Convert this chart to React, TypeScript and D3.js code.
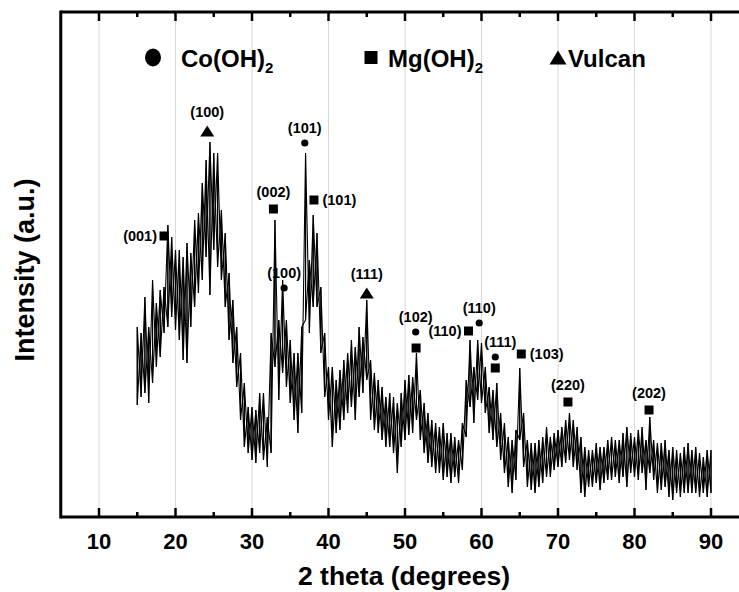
import React from 'react';
import * as d3 from 'd3';

// XRD pattern, sampled every 0.5 degree from 15 to 90 (upper and lower noise envelope, arb. counts)
const angleStart = 15;
const angleStep = 0.5;
const hiCounts = [
  190, 184, 220, 190, 237, 214, 227, 230, 292, 280,
  267, 267, 260, 274, 264, 297, 304, 334, 357, 375,
  364, 364, 307, 284, 244, 217, 190, 164, 134, 110,
  110, 107, 124, 124, 100, 184, 297, 197, 237, 197,
  177, 164, 164, 190, 364, 257, 302, 284, 230, 184,
  150, 150, 137, 147, 157, 164, 177, 170, 190, 180,
  217, 157, 144, 137, 130, 120, 124, 120, 114, 124,
  137, 142, 140, 164, 127, 114, 104, 97, 94, 90,
  94, 84, 84, 80, 77, 94, 137, 177, 150, 177,
  174, 150, 130, 127, 134, 104, 94, 80, 77, 87,
  149, 104, 77, 74, 74, 77, 80, 90, 80, 84,
  87, 90, 97, 104, 97, 90, 80, 70, 67, 67,
  74, 70, 70, 77, 80, 77, 77, 84, 90, 84,
  80, 87, 90, 77, 100, 77, 74, 74, 77, 67,
  70, 67, 64, 70, 74, 67, 70, 64, 60, 67,
  67,
];
const loCounts = [
  112, 120, 124, 114, 134, 150, 160, 184, 190, 200,
  187, 177, 157, 154, 190, 210, 224, 237, 260, 222,
  267, 250, 237, 210, 177, 154, 130, 97, 70, 64,
  57, 54, 64, 57, 50, 64, 150, 117, 144, 130,
  114, 97, 84, 104, 197, 184, 210, 210, 164, 120,
  97, 70, 84, 87, 97, 104, 110, 97, 120, 124,
  137, 97, 87, 84, 77, 70, 70, 64, 44, 70,
  77, 82, 84, 97, 77, 64, 54, 50, 44, 44,
  37, 40, 34, 40, 34, 47, 80, 110, 94, 117,
  114, 104, 84, 77, 70, 57, 44, 30, 24, 37,
  77, 50, 30, 27, 24, 30, 34, 40, 40, 47,
  50, 50, 54, 57, 50, 47, 24, 20, 30, 30,
  34, 27, 34, 37, 37, 40, 34, 40, 30, 44,
  40, 37, 44, 27, 44, 37, 24, 27, 30, 20,
  17, 24, 20, 24, 24, 24, 24, 20, 24, 20,
  24,
];
const angles = hiCounts.map((_, i) => angleStart + i * angleStep);

const xTicks = [10, 20, 30, 40, 50, 60, 70, 80, 90];
const xMinorTicks = [15, 25, 35, 45, 55, 65, 75, 85];

// Peak markers
const markerAngle = [18.5, 24.15, 32.8, 36.9, 38.1, 34.2, 45.0, 51.4, 51.45, 58.3, 59.7, 61.8, 61.8, 65.2, 71.3, 81.9];
const markerCount = [281, 386, 308, 374, 317, 229, 224, 185, 169, 186, 194, 160, 149, 163, 115, 107];
const markerPhase = ['Mg', 'V', 'Mg', 'Co', 'Mg', 'Co', 'V', 'Co', 'Mg', 'Mg', 'Co', 'Co', 'Mg', 'Mg', 'Mg', 'Mg'];

// Peak labels (hkl), attached to a marker
const labelText = ['(001)', '(100)', '(002)', '(101)', '(101)', '(100)', '(111)', '(102)', '(110)', '(110)', '(111)', '(103)', '(220)', '(202)'];
const labelMarker = [0, 1, 2, 3, 4, 5, 6, 7, 9, 10, 11, 13, 14, 15];
const labelSide = ['left', 'above', 'above', 'above', 'right', 'above', 'above', 'above', 'left', 'above', 'aboveRight', 'right', 'above', 'above'];

const legendNames = ['Co(OH)', 'Mg(OH)', 'Vulcan'];
const legendSub = ['2', '2', ''];
const legendPhase = ['Co', 'Mg', 'V'];

const W = 739;
const H = 592;
const FONT = "'Liberation Sans', Arial, Helvetica, sans-serif";

function Marker({ phase, x, y, big }: { phase: string; x: number; y: number; big?: boolean }) {
  if (phase === 'Co') {
    return big ? <ellipse cx={x} cy={y} rx={8} ry={9} fill="#000" /> : <circle cx={x} cy={y} r={3.6} fill="#000" />;
  }
  if (phase === 'Mg') {
    const s = big ? 13 : 9;
    return <rect x={x - s / 2} y={y - s / 2} width={s} height={s} fill="#000" />;
  }
  const w = big ? 17 : 14;
  const h = big ? 14 : 11;
  return <path d={`M${x - w / 2},${y + h / 2}L${x + w / 2},${y + h / 2}L${x},${y - h / 2}Z`} fill="#000" />;
}

export default function App() {
  const left = 60.75;
  const top = 12;
  const bottom = 517;
  const x = d3.scaleLinear().domain([5, 95]).range([left, left + 90 * 7.65]);
  const y = d3.scaleLinear().domain([0, 505]).range([bottom, top]);

  // two traversals of the noise envelope (hi→lo and lo→hi at every sample)
  const ptsA: [number, number][] = [];
  const ptsB: [number, number][] = [];
  angles.forEach((a, i) => {
    ptsA.push([a, hiCounts[i]], [a, loCounts[i]]);
    ptsB.push([a, loCounts[i]], [a, hiCounts[i]]);
  });
  const line = d3
    .line<[number, number]>()
    .x((d) => x(d[0]))
    .y((d) => y(d[1]));

  const right = W + 10;

  return (
    <svg width={W} height={H} style={{ position: 'absolute', left: 0, top: 0, display: 'block' }} fontFamily={FONT}>
      <rect width={W} height={H} fill="#fff" />
      {xTicks.map((t) => (
        <line key={'g' + t} x1={x(t)} x2={x(t)} y1={top} y2={bottom} stroke="#d8d8d8" strokeWidth={1} />
      ))}
      <path d={line(ptsA) || ''} fill="none" stroke="#000" strokeWidth={1.1} strokeLinejoin="bevel" />
      <path d={line(ptsB) || ''} fill="none" stroke="#000" strokeWidth={1.1} strokeLinejoin="bevel" />
      {/* frame */}
      <line x1={left} x2={right} y1={top} y2={top} stroke="#000" strokeWidth={3} />
      <line x1={left} x2={right} y1={bottom} y2={bottom} stroke="#000" strokeWidth={3} />
      <line x1={left} x2={left} y1={top - 1.5} y2={bottom + 1.5} stroke="#000" strokeWidth={3} />
      {xTicks.map((t) => (
        <g key={'t' + t}>
          <line x1={x(t)} x2={x(t)} y1={bottom} y2={bottom - 9} stroke="#000" strokeWidth={2.5} />
          <line x1={x(t)} x2={x(t)} y1={top} y2={top + 9} stroke="#000" strokeWidth={2.5} />
          <text x={x(t)} y={548.5} textAnchor="middle" fontSize={22} fontWeight="bold">
            {t}
          </text>
        </g>
      ))}
      {xMinorTicks.map((t) => (
        <g key={'m' + t}>
          <line x1={x(t)} x2={x(t)} y1={bottom} y2={bottom - 5} stroke="#000" strokeWidth={2.5} />
          <line x1={x(t)} x2={x(t)} y1={top} y2={top + 5} stroke="#000" strokeWidth={2.5} />
        </g>
      ))}
      <text x={404} y={585} textAnchor="middle" fontSize={26.5} fontWeight="bold">
        2 theta (degrees)
      </text>
      <text transform="translate(34,270) rotate(-90)" textAnchor="middle" fontSize={27} fontWeight="bold">
        Intensity (a.u.)
      </text>

      {/* peak markers */}
      {markerAngle.map((a, i) => (
        <Marker key={'pm' + i} phase={markerPhase[i]} x={x(a)} y={y(markerCount[i])} />
      ))}
      {labelText.map((t, i) => {
        const m = labelMarker[i];
        const mx = x(markerAngle[m]);
        const my = y(markerCount[m]);
        const side = labelSide[i];
        const ph = markerPhase[m];
        const up = ph === 'V' ? 19 : ph === 'Mg' ? 17 : 15;
        let tx = mx;
        let ty = my - up + 5;
        let anchor: 'middle' | 'start' | 'end' = 'middle';
        if (side === 'left') {
          tx = mx - 7;
          ty = my + 5;
          anchor = 'end';
        } else if (side === 'right') {
          tx = mx + 8.5;
          ty = my + 5;
          anchor = 'start';
        } else if (side === 'aboveRight') {
          tx = mx + 5;
        }
        return (
          <text key={'pl' + i} x={tx} y={ty} textAnchor={anchor} fontSize={14.5} fontWeight="bold">
            {t}
          </text>
        );
      })}

      {/* legend */}
      {legendNames.map((n, i) => {
        const mxs = [153, 371, 558];
        const txs = [181, 388, 568];
        return (
          <g key={'lg' + i}>
            <Marker phase={legendPhase[i]} x={mxs[i]} y={57.5} big />
            <text x={txs[i]} y={66.5} fontSize={24} fontWeight="bold">
              {n}
              {legendSub[i] && (
                <tspan fontSize={15} dy={6.5}>
                  {legendSub[i]}
                </tspan>
              )}
            </text>
          </g>
        );
      })}
    </svg>
  );
}
